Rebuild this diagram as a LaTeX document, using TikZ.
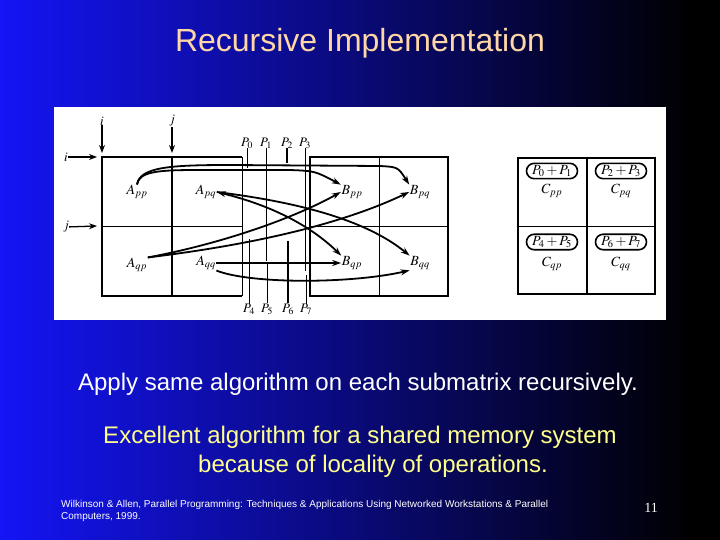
\documentclass[tikz,border=0pt]{standalone}
\usepackage{mathptmx}
\usepackage{fontspec}
\setmainfont{Liberation Serif}
\newfontfamily\slidefont{Liberation Sans}
\usetikzlibrary{positioning, arrows.meta, shapes.misc}
\definecolor{slideblue}{RGB}{20,20,245}
\definecolor{slidemid}{RGB}{8,8,200}
\definecolor{titlepeach}{RGB}{255,214,165}
\definecolor{noteyellow}{RGB}{255,255,140}
\tikzset{
    heavy/.style = {line width=2.6pt},
    medium/.style = {line width=1.8pt},
    light/.style = {line width=0.8pt},
    flow/.style = {line width=1.8pt, -{Stealth[length=9pt,width=6pt]}},
    inarrow/.style = {line width=1.3pt, -{Stealth[length=8pt,width=6pt]}},
    lbl/.style = {font=\fontsize{14}{14}\selectfont, inner sep=0.5pt},
    plabel/.style = {font=\fontsize{13}{13}\selectfont, inner sep=0pt},
    sumbox/.style = {rounded rectangle, draw, line width=1.6pt, inner xsep=2.5pt,
                        inner ysep=2pt, minimum width=56pt, font=\fontsize{14}{14}\selectfont},
    slidetext/.style = {font=\slidefont\fontsize{24}{28}\selectfont}
}

\begin{document}
\begin{tikzpicture}[x=1pt,y=-1pt]
	\useasboundingbox (0,0) rectangle (720,540);
	% slide background
	\shade[left color=slideblue, middle color=slidemid, right color=black] (0,0) rectangle (695,540);
	\fill[black] (695,0) rectangle (720,540);
	\node (title) [slidetext, font=\slidefont\fontsize{32}{36}\selectfont, text=titlepeach] at (360,43) {Recursive Implementation};
	% figure
	\fill[white] (54,107) rectangle (666,320);
	\draw[heavy] (242,157) -- (102,157) -- (102,296) -- (242,296);
	\draw[light] (242,157) -- (242,296);
	\draw[medium] (172,157) -- (172,296);
	\draw[light] (102,226) -- (242,226);
	\draw[heavy] (310,157) rectangle (448,296);
	\draw[light] (379,157) -- (379,296);
	\draw[light] (310,226) -- (448,226);
	\draw[heavy] (518,158) rectangle (655,294);
	\draw[heavy] (587,158) -- (587,294);
	\draw[light] (518,226) -- (655,226);
	% row and column indices
	\node (itop) [plabel] at (102,121) {$i$};
	\node (jtop) [plabel] at (172,121) {$j$};
	\node (ileft) [plabel] at (66,157) {$i$};
	\node (jleft) [plabel] at (66,227) {$j$};
	\coordinate (itopend) at (102,153);
	\coordinate (jtopend) at (172,153);
	\coordinate (ileftend) at (97,157);
	\coordinate (jleftend) at (97,226);
	\draw [inarrow] (itop) -- (itopend);
	\draw [inarrow] (jtop) -- (jtopend);
	\draw [inarrow] (ileft) -- (ileftend);
	\draw [inarrow] (jleft) -- (jleftend);
	% submatrices
	\node (App) [lbl] at (137,192) {$A_{pp}$};
	\node (Apq) [lbl] at (206,192) {$A_{pq}$};
	\node (Aqp) [lbl] at (137,265) {$A_{qp}$};
	\node (Aqq) [lbl] at (206,263) {$A_{qq}$};
	\node (Bpp) [lbl] at (352,192) {$B_{pp}$};
	\node (Bpq) [lbl] at (420,192) {$B_{pq}$};
	\node (Bqp) [lbl] at (352,263) {$B_{qp}$};
	\node (Bqq) [lbl] at (420,263) {$B_{qq}$};
	\draw [flow] (App.north) .. controls (139,171) and (160,170) .. (200,170) -- (290,170)
		.. controls (315,171) .. (Bpp.north west);
	\draw [flow] (App.north) .. controls (140,167) and (170,165) .. (230,165) -- (380,166)
		.. controls (398,167) .. (Bpq.north west);
	\draw [{Stealth[length=9pt,width=6pt]}-{Stealth[length=9pt,width=6pt]}, line width=1.8pt] (Apq.east)
		.. controls (270,205) and (310,225) .. (Bqp.north west);
	\draw [flow] (Apq.east) .. controls (280,200) and (360,215) .. (Bqq.north west);
	\draw [flow] (Aqp.north east) .. controls (230,242) and (300,215) .. (Bpp.west);
	\draw [flow] (Aqp.north east) .. controls (250,245) and (340,225) .. (Bpq.west);
	\draw [flow] (Aqq.east) -- (Bqp.west);
	\draw [flow] (Aqq.south east) .. controls (250,284) and (350,284) .. (Bqq.south west);
	% processors
	\node (P0) [plabel] at (247,143) {$P_0$};
	\node (P1) [plabel] at (266,143) {$P_1$};
	\node (P2) [plabel] at (287,143) {$P_2$};
	\node (P3) [plabel] at (305,143) {$P_3$};
	\node (P4) [plabel] at (249,309) {$P_4$};
	\node (P5) [plabel] at (267,309) {$P_5$};
	\node (P6) [plabel] at (288,309) {$P_6$};
	\node (P7) [plabel] at (306,309) {$P_7$};
	\draw [light] (P0.south) -- ++(0,20);
	\draw [light] (P1.south) -- ++(0,113);
	\draw [medium] (P2.south) -- ++(0,15);
	\draw [light] (P3.south) -- ++(0,123);
	\draw [light] (P4.north) -- ++(0,-65);
	\draw [light] (P5.north) -- ++(0,-39);
	\draw [medium] (P6.north) -- ++(0,-62);
	\draw [light] (P7.north) -- ++(0,-29);
	% result blocks
	\node (s01) [sumbox] at (552,171) {$P_0+P_1$};
	\node (s23) [sumbox] at (621,171) {$P_2+P_3$};
	\node (s45) [sumbox] at (552,242) {$P_4+P_5$};
	\node (s67) [sumbox] at (621,242) {$P_6+P_7$};
	\node (Cpp) [lbl] at (552,191) {$C_{pp}$};
	\node (Cpq) [lbl] at (621,191) {$C_{pq}$};
	\node (Cqp) [lbl] at (552,264) {$C_{qp}$};
	\node (Cqq) [lbl] at (621,264) {$C_{qq}$};
	% slide text
	\node (apply) [slidetext, text=white] at (358,384) {Apply same algorithm on each submatrix recursively.};
	\node (excellent) [slidetext, text=noteyellow] at (360,437) {Excellent algorithm for a shared memory system};
	\node (because) [slidetext, text=noteyellow] at (373,466) {because of locality of operations.};
	\node (source) [anchor=north west, align=left, text=white, inner sep=0pt,
		font=\slidefont\fontsize{10}{12.5}\selectfont] at (61,500)
		{Wilkinson \& Allen, Parallel Programming: Techniques \& Applications Using Networked Workstations \& Parallel\\
		Computers, 1999.};
	\node (page) [text=white, font=\fontsize{14}{14}\selectfont] at (651,508) {11};
\end{tikzpicture}
\end{document}
